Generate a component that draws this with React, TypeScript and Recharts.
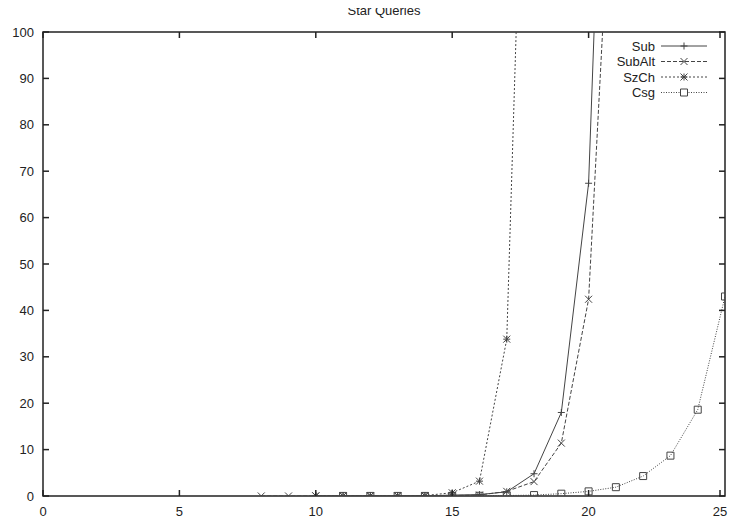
import { Line, LineChart, ReferenceArea, XAxis, YAxis } from "recharts";

const xValues = [8, 9, 10, 11, 12, 13, 14, 15, 16, 17, 18, 19, 20, 21, 22, 23, 24, 25];
const subValues = [null, null, 0.01, 0.01, 0.01, 0.01, 0.02, 0.2, 0.3, 0.9, 4.8, 18, 67.4, 230, null, null, null, null];
const subAltValues = [0.01, 0.01, 0.01, 0.01, 0.01, 0.01, 0.02, 0.1, 0.2, 1.0, 3.1, 11.4, 42.4, 155, null, null, null, null];
const szChValues = [null, null, 0.05, 0.05, 0.05, 0.05, 0.1, 0.7, 3.2, 33.8, 226, null, null, null, null, null, null, null];
const csgValues = [null, null, null, 0.02, 0.02, 0.02, 0.02, 0.03, 0.05, 0.1, 0.2, 0.5, 1.0, 1.9, 4.3, 8.7, 18.6, 43];
const xTicks = [0, 5, 10, 15, 20, 25];
const yTicks = [0, 10, 20, 30, 40, 50, 60, 70, 80, 90, 100];

const data = xValues.map((x, i) => ({
  x,
  sub: subValues[i],
  subAlt: subAltValues[i],
  szCh: szChValues[i],
  csg: csgValues[i],
}));

const W = 720;
const H = 515;
const LEFT = 35;
const RIGHT = 717;
const TOP = 24;
const BOTTOM = 488;
const FONT = "'Liberation Sans', Arial, sans-serif";
const INK = "#222";
const LINE = "#444";

type Marker = "plus" | "cross" | "star" | "square";

function markerPath(kind: Marker, cx: number, cy: number) {
  const r = 3.5;
  if (kind === "plus") return `M${cx - r},${cy}H${cx + r}M${cx},${cy - r}V${cy + r}`;
  if (kind === "cross") return `M${cx - r},${cy - r}L${cx + r},${cy + r}M${cx - r},${cy + r}L${cx + r},${cy - r}`;
  if (kind === "star")
    return `M${cx - r},${cy}H${cx + r}M${cx},${cy - r}V${cy + r}M${cx - r},${cy - r}L${cx + r},${cy + r}M${cx - r},${cy + r}L${cx + r},${cy - r}`;
  return `M${cx - r},${cy - r}H${cx + r}V${cy + r}H${cx - r}Z`;
}

function makeDot(kind: Marker) {
  return (props: any) => {
    const { cx, cy, index } = props;
    if (cx == null || cy == null || Number.isNaN(cy)) return <g key={`d-${kind}-${index}`} />;
    return (
      <path
        key={`d-${kind}-${index}`}
        d={markerPath(kind, cx, cy)}
        fill="none"
        stroke={LINE}
        strokeWidth={1}
      />
    );
  };
}

function XTick(props: any) {
  const { x, payload } = props;
  return (
    <g>
      <line x1={x} x2={x} y1={BOTTOM} y2={BOTTOM - 6} stroke={INK} strokeWidth={1.5} />
      <line x1={x} x2={x} y1={TOP} y2={TOP + 6} stroke={INK} strokeWidth={1.5} />
      <text x={x} y={BOTTOM + 20} textAnchor="middle" fontSize={13} fontFamily={FONT} fill={INK}>
        {payload.value}
      </text>
    </g>
  );
}

function YTick(props: any) {
  const { y, payload } = props;
  return (
    <g>
      <line x1={LEFT} x2={LEFT + 6} y1={y} y2={y} stroke={INK} strokeWidth={1.5} />
      <line x1={RIGHT} x2={RIGHT - 6} y1={y} y2={y} stroke={INK} strokeWidth={1.5} />
      <text x={LEFT - 9} y={y + 4.5} textAnchor="end" fontSize={13} fontFamily={FONT} fill={INK}>
        {payload.value}
      </text>
    </g>
  );
}

const legendItems: { name: string; marker: Marker; dash?: string }[] = [
  { name: "Sub", marker: "plus" },
  { name: "SubAlt", marker: "cross", dash: "4 2" },
  { name: "SzCh", marker: "star", dash: "2 2" },
  { name: "Csg", marker: "square", dash: "1 1.5" },
];

// title + key sit on top of the chart svg; the title pokes into the body margin
function Overlay() {
  return (
    <svg
      width={W}
      height={100}
      style={{ position: "absolute", left: 0, top: 0, overflow: "visible", pointerEvents: "none" }}
    >
      <text x={(LEFT + RIGHT) / 2} y={7} textAnchor="middle" fontSize={13} fontFamily={FONT} fill={INK}>
        Star Queries
      </text>
      {legendItems.map((item, i) => {
        const cy = 38 + i * 15.5;
        return (
          <g key={item.name}>
            <text x={647} y={cy + 4.5} textAnchor="end" fontSize={13} fontFamily={FONT} fill={INK}>
              {item.name}
            </text>
            <line x1={653} x2={699} y1={cy} y2={cy} stroke={LINE} strokeWidth={1} strokeDasharray={item.dash} />
            <path
              d={markerPath(item.marker, 676, cy)}
              fill={item.marker === "square" ? "#fff" : "none"}
              stroke={LINE}
              strokeWidth={1}
            />
          </g>
        );
      })}
    </svg>
  );
}

export default function App() {
  return (
    <div style={{ position: "relative", width: W, height: H, background: "#fff" }}>
      <LineChart width={W} height={H} data={data} margin={{ top: TOP, right: W - RIGHT, left: 0, bottom: 0 }}>
        <XAxis
          dataKey="x"
          type="number"
          domain={[0, 25]}
          ticks={xTicks}
          height={H - BOTTOM}
          tickLine={false}
          axisLine={false}
          tick={<XTick />}
          allowDataOverflow
        />
        <YAxis
          type="number"
          domain={[0, 100]}
          ticks={yTicks}
          width={LEFT}
          tickLine={false}
          axisLine={false}
          tick={<YTick />}
          allowDataOverflow
        />
        <Line dataKey="csg" stroke={LINE} strokeWidth={1} strokeDasharray="1 1.5" dot={makeDot("square")} isAnimationActive={false} />
        <Line dataKey="szCh" stroke={LINE} strokeWidth={1} strokeDasharray="2 2" dot={makeDot("star")} isAnimationActive={false} />
        <Line dataKey="subAlt" stroke={LINE} strokeWidth={1} strokeDasharray="4 2" dot={makeDot("cross")} isAnimationActive={false} />
        <Line dataKey="sub" stroke={LINE} strokeWidth={1} dot={makeDot("plus")} isAnimationActive={false} />
        <ReferenceArea x1={0} x2={25} y1={0} y2={100} fill="none" stroke={INK} strokeWidth={1.5} ifOverflow="visible" />
      </LineChart>
      <Overlay />
    </div>
  );
}
